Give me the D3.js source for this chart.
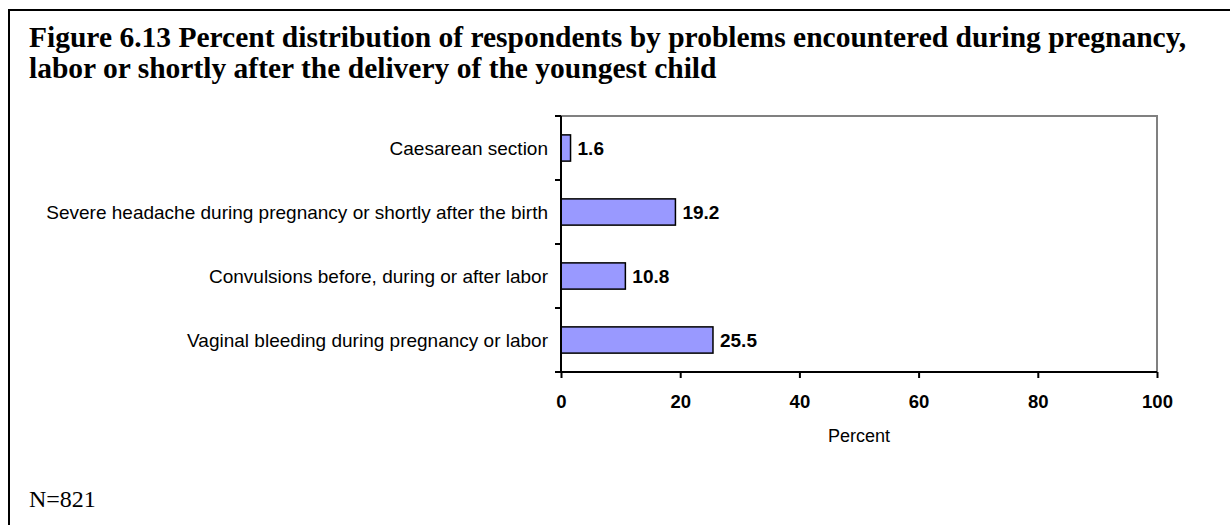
<!DOCTYPE html>
<html>
<head>
<meta charset="utf-8">
<script src="https://cdn.jsdelivr.net/npm/d3@7"></script>
<style>
  body { margin: 0; background: #fff; }
  svg { display: block; }
</style>
</head>
<body>
<div id="chart"></div>
<script>
// data
const categories = [
  "Caesarean section",
  "Severe headache during pregnancy or shortly after the birth",
  "Convulsions before, during or after labor",
  "Vaginal bleeding during pregnancy or labor",
];
const values = [1.6, 19.2, 10.8, 25.5];
const xTicks = [0, 20, 40, 60, 80, 100];
const titleLines = [
  "Figure 6.13 Percent distribution of respondents by problems encountered during pregnancy,",
  "labor or shortly after the delivery of the youngest child",
];
const note = "N=821";

const width = 1230;
const height = 525;
const plot = { left: 561, right: 1157, top: 116, bottom: 372 };
const sans = "Arial, 'Liberation Sans', sans-serif";
const serif = "'Times New Roman', 'Liberation Serif', serif";

const svg = d3
  .select("#chart")
  .append("svg")
  .attr("width", width)
  .attr("height", height);

// outer frame (only top & left visible, rest runs off the page)
svg
  .append("rect")
  .attr("x", 9)
  .attr("y", 10)
  .attr("width", width + 20)
  .attr("height", height + 20)
  .attr("fill", "none")
  .attr("stroke", "#000")
  .attr("stroke-width", 2);

// title
svg
  .append("g")
  .selectAll("text")
  .data(titleLines)
  .join("text")
  .attr("x", 29)
  .attr("y", (d, i) => 47 + i * 31)
  .attr("font-family", serif)
  .attr("font-weight", "bold")
  .attr("font-size", "29.5px")
  .attr("fill", "#000")
  .text((d) => d);

const x = d3.scaleLinear().domain([0, 100]).range([plot.left, plot.right]);
const y = d3
  .scaleBand()
  .domain(categories)
  .range([plot.top, plot.bottom])
  .paddingInner(0.59)
  .paddingOuter(0.295);

// plot frame: grey top and right
svg
  .append("path")
  .attr("d", `M${plot.left},${plot.top}H${plot.right}V${plot.bottom}`)
  .attr("fill", "none")
  .attr("stroke", "#808080")
  .attr("stroke-width", 2);

// bars
svg
  .append("g")
  .selectAll("rect")
  .data(values)
  .join("rect")
  .attr("x", x(0))
  .attr("y", (d, i) => y(categories[i]))
  .attr("width", (d) => x(d) - x(0))
  .attr("height", y.bandwidth())
  .attr("fill", "#9999ff")
  .attr("stroke", "#000")
  .attr("stroke-width", 1.5);

// value labels
svg
  .append("g")
  .selectAll("text")
  .data(values)
  .join("text")
  .attr("x", (d) => x(d) + 7)
  .attr("y", (d, i) => y(categories[i]) + y.bandwidth() / 2)
  .attr("dy", "0.35em")
  .attr("font-family", sans)
  .attr("font-weight", "bold")
  .attr("font-size", "19px")
  .text((d) => d.toFixed(1));

// y axis: ticks on band boundaries
const yAxis = svg.append("g");
yAxis
  .append("line")
  .attr("x1", plot.left)
  .attr("x2", plot.left)
  .attr("y1", plot.top)
  .attr("y2", plot.bottom)
  .attr("stroke", "#000")
  .attr("stroke-width", 2);
const step = (plot.bottom - plot.top) / categories.length;
yAxis
  .selectAll("line.tick")
  .data(d3.range(categories.length + 1))
  .join("line")
  .attr("class", "tick")
  .attr("x1", plot.left - 6)
  .attr("x2", plot.left)
  .attr("y1", (i) => plot.top + i * step)
  .attr("y2", (i) => plot.top + i * step)
  .attr("stroke", "#000")
  .attr("stroke-width", 2);
yAxis
  .selectAll("text")
  .data(categories)
  .join("text")
  .attr("x", plot.left - 13)
  .attr("y", (d) => y(d) + y.bandwidth() / 2)
  .attr("dy", "0.35em")
  .attr("text-anchor", "end")
  .attr("font-family", sans)
  .attr("font-size", "19px")
  .text((d) => d);

// x axis
const xAxis = svg
  .append("g")
  .attr("transform", `translate(0,${plot.bottom})`)
  .call(d3.axisBottom(x).tickValues(xTicks).tickSize(6).tickPadding(6));
xAxis
  .select(".domain")
  .attr("stroke", "#000")
  .attr("stroke-width", 2)
  .attr("d", `M${plot.left - 6},0H${plot.right}`);
xAxis.selectAll(".tick line").attr("stroke", "#000").attr("stroke-width", 2);
xAxis
  .selectAll(".tick text")
  .attr("dy", null)
  .attr("y", 36)
  .attr("font-family", sans)
  .attr("font-weight", "bold")
  .attr("font-size", "18.5px")
  .attr("fill", "#000");

svg
  .append("text")
  .attr("x", 859)
  .attr("y", 441.5)
  .attr("text-anchor", "middle")
  .attr("font-family", sans)
  .attr("font-size", "18px")
  .text("Percent");

svg
  .append("text")
  .attr("x", 29)
  .attr("y", 507)
  .attr("font-family", serif)
  .attr("font-size", "24px")
  .text(note);
</script>
</body>
</html>
